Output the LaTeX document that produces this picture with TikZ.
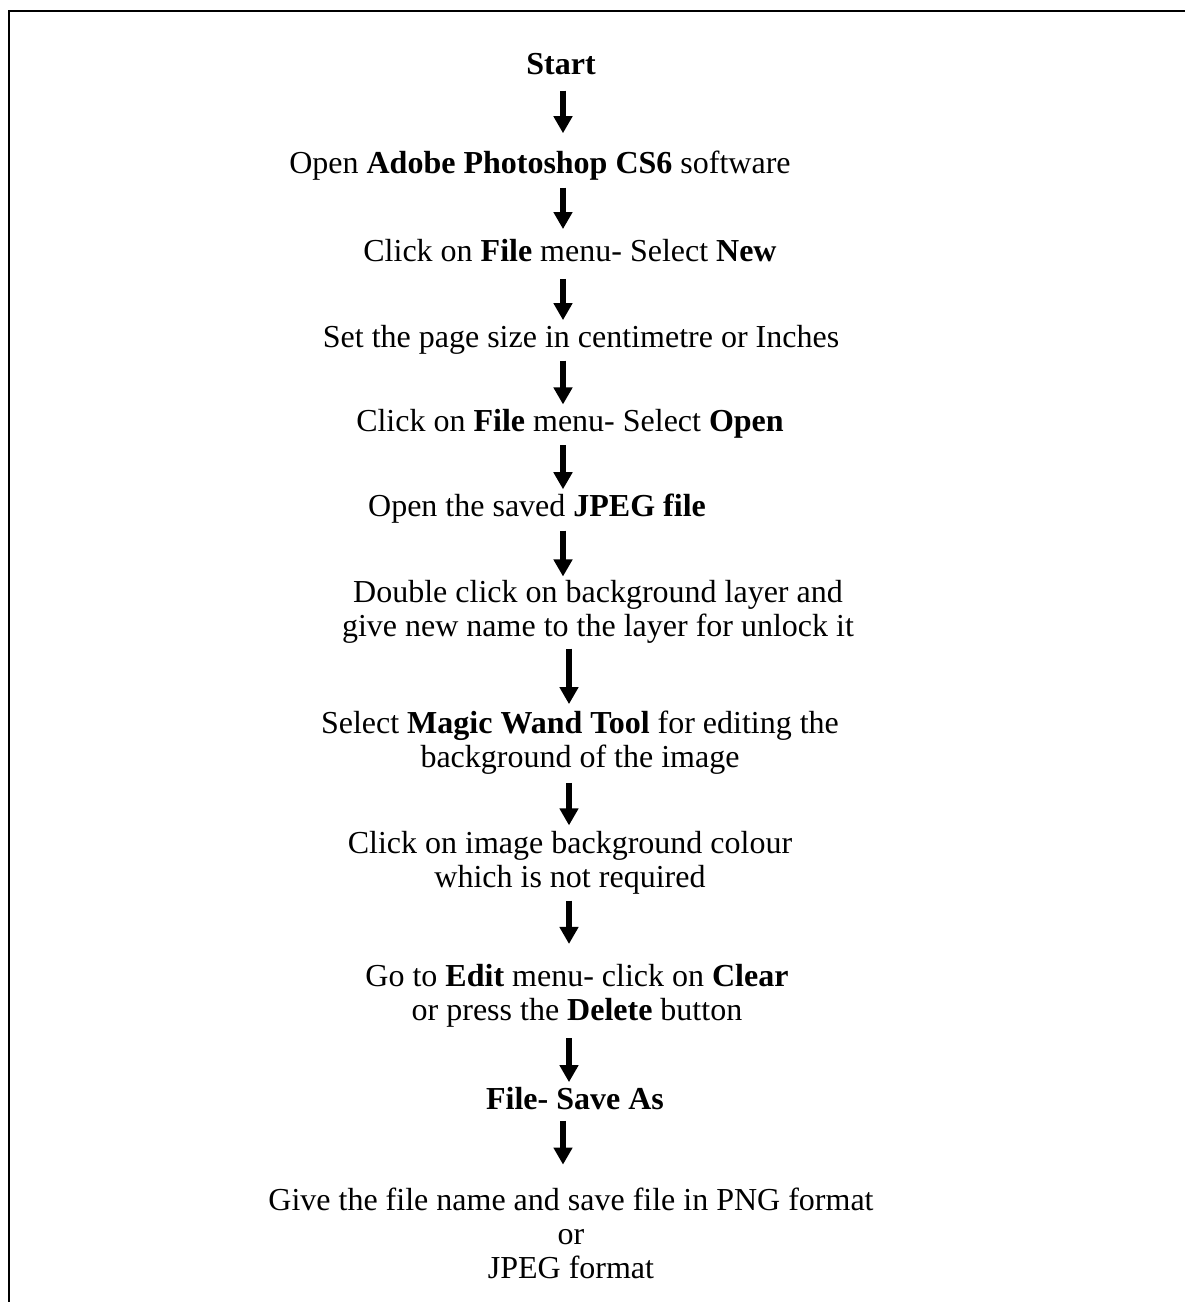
\documentclass[tikz,border=0pt]{standalone}
\usepackage{fontspec}
\setmainfont{Liberation Serif}
\usepackage{tikz}
\usetikzlibrary{arrows.meta, positioning, calc}

\begin{document}
\begin{tikzpicture}
  [
    x=0.375pt, y=-0.375pt,
    Step/.style={inner sep=0pt, align=center, font=\fontsize{12}{12.75}\selectfont},
    Flow/.style={-{Triangle[width=6.8pt, length=6.4pt]}, draw, line width=2pt},
    Frame/.style={draw, line width=0.8pt}
  ]
  \useasboundingbox (0,0) rectangle (1185,1302);
  % Frame
  \path [Frame] (8,11) -- (1185,11);
  \path [Frame] (9,11) -- (9,1302);
  % Nodes
  \node[Step] (start) at (561,64.5) {\textbf{Start}};
  \node[Step] (psd) at (540,165.5) {Open \textbf{Adobe Photoshop CS6} software};
  \node[Step] (newfile) at (570,251) {Click on \textbf{File} menu- Select \textbf{New}};
  \node[Step] (pagesize) at (581,339.5) {Set the page size in centimetre or Inches};
  \node[Step] (openfile) at (570,423.5) {Click on \textbf{File} menu- Select \textbf{Open}};
  \node[Step] (jpeg) at (537,508.5) {Open the saved \textbf{JPEG file}};
  \node[Step] (unlock) at (598,611.5) {Double click on background layer and\\give new name to the layer for unlock it};
  \node[Step] (wand) at (580,742.5) {Select \textbf{Magic Wand Tool} for editing the\\background of the image};
  \node[Step] (bgcol) at (570,862.5) {Click on image background colour\\which is not required};
  \node[Step] (clear) at (577,996) {Go to \textbf{Edit} menu- click on \textbf{Clear}\\or press the \textbf{Delete} button};
  \node[Step] (saveas) at (575,1099) {\textbf{File- Save As}};
  \node[Step] (png) at (571,1233.5) {Give the file name and save file in PNG format\\or\\JPEG format};
  % Arrow columns
  \coordinate (ax) at (563,0);
  \coordinate (bx) at (569,0);
  % Lines
  \path [Flow, shorten <=5.6pt, shorten >=6.4pt] (start.south -| ax) -- (psd.north -| ax);
  \path [Flow, shorten <=2.6pt, shorten >=3.8pt] (psd.south -| ax) -- (newfile.north -| ax);
  \path [Flow, shorten <=6pt, shorten >=1.6pt] (newfile.south -| ax) -- (pagesize.north -| ax);
  \path [Flow, shorten <=2.3pt, shorten >=1.5pt] (pagesize.south -| ax) -- (openfile.north -| ax);
  \path [Flow, shorten <=2.6pt, shorten >=1.5pt] (openfile.south -| ax) -- (jpeg.north -| ax);
  \path [Flow, shorten <=2.6pt, shorten >=1.1pt] (jpeg.south -| ax) -- (unlock.north -| ax);
  \path [Flow, shorten <=1.9pt, shorten >=2.3pt] (unlock.south -| bx) -- (wand.north -| bx);
  \path [Flow, shorten <=3.0pt, shorten >=1.9pt] (wand.south -| bx) -- (bgcol.north -| bx);
  \path [Flow, shorten <=2.3pt, shorten >=7.5pt] (bgcol.south -| bx) -- (clear.north -| bx);
  \path [Flow, shorten <=3.8pt, shorten >=1.9pt] (clear.south -| bx) -- (saveas.north -| bx);
  \path [Flow, shorten <=3.8pt, shorten >=8.6pt] (saveas.south -| ax) -- (png.north -| ax);
\end{tikzpicture}
\end{document}
